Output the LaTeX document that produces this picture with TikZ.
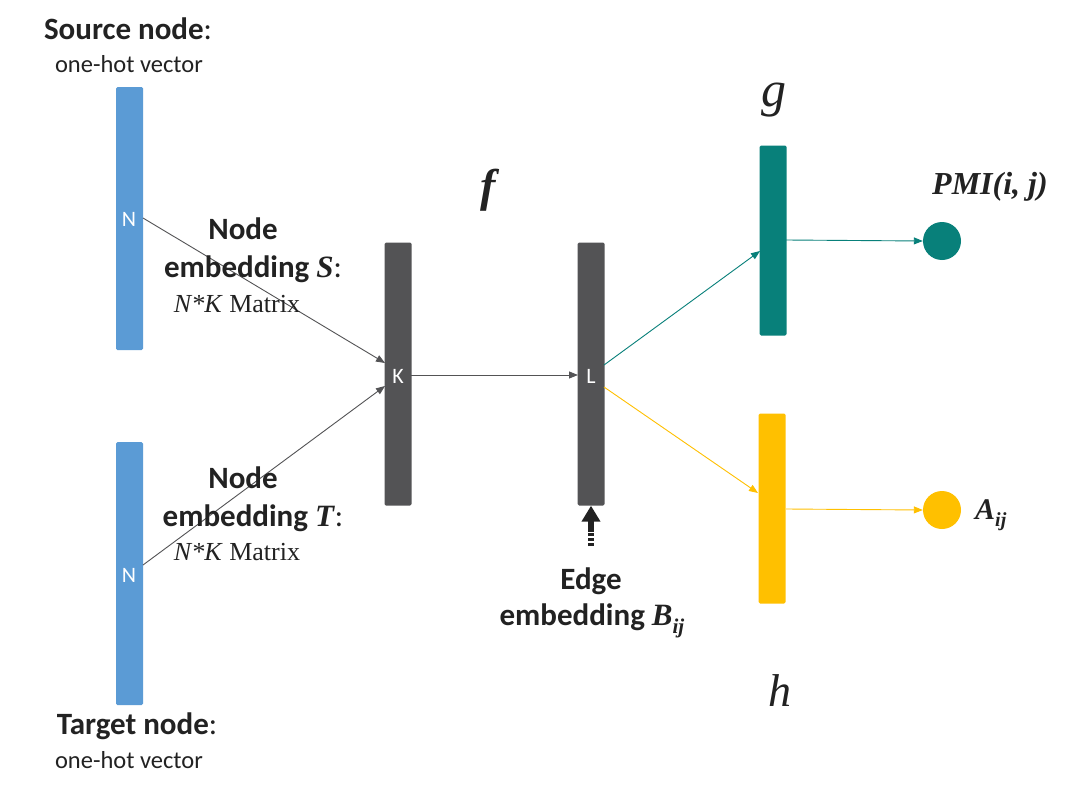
\documentclass[tikz,border=0pt]{standalone}
\usepackage{fontspec}
\setmainfont{Liberation Serif}
\newfontfamily\calfont{Carlito}
\usetikzlibrary{arrows.meta}
\definecolor{barblue}{HTML}{5B9BD5}
\definecolor{bargray}{HTML}{535355}
\definecolor{barteal}{HTML}{08807A}
\definecolor{baryellow}{HTML}{FFC000}
\definecolor{txt}{HTML}{222222}
\begin{document}
\begin{tikzpicture}[x=1pt,y=-1pt,
  bar/.style={rectangle, rounded corners=1.5, inner sep=0, minimum width=27, minimum height=263},
  sbar/.style={rectangle, rounded corners=1.5, inner sep=0, minimum width=27, minimum height=190},
  inlbl/.style={white, font=\calfont\fontsize{22}{24}\selectfont, inner sep=0},
  big/.style={txt, font=\calfont\bfseries\fontsize{31}{35}\selectfont, inner sep=0},
  small/.style={txt, font=\calfont\fontsize{24.5}{28}\selectfont, inner sep=0},
  mat/.style={txt, font=\fontsize{26}{28}\selectfont, inner sep=0},
  conn/.style={-{Triangle[length=9,width=7]}, line width=0.9},
  outcirc/.style={circle, inner sep=0, minimum size=38},
]
\useasboundingbox (0,0) rectangle (1080,787);
\fill[white] (0,0) rectangle (1080,787);

% bars
\node[bar, fill=barblue] (src) at (129.5,218.5) {};
\node[bar, fill=barblue] (tgt) at (129.5,573.5) {};
\node[bar, fill=bargray] (kb) at (398,374) {};
\node[bar, fill=bargray] (lb) at (591,374) {};
\node[sbar, fill=barteal] (gb) at (773,240.5) {};
\node[sbar, fill=baryellow] (hb) at (772,508.5) {};

% inner labels
\node[inlbl] (nS) at (129,219) {N};
\node[inlbl] (nT) at (129,575) {N};
\node[inlbl] (kl) at (398,376) {K};
\node[inlbl] (ll) at (591,376) {L};

% output circles
\node[outcirc, fill=barteal] (pmi) at (942,241) {};
\node[outcirc, fill=baryellow] (aij) at (942,510) {};

% anchor coordinates
\coordinate (sOut) at (143,218);
\coordinate (tOut) at (143,565);
\coordinate (kIn1) at (385,363);
\coordinate (kIn2) at (385,386);
\coordinate (kOut) at (411,375);
\coordinate (lIn) at (578,375);
\coordinate (lOut1) at (604,365);
\coordinate (lOut2) at (604,387);
\coordinate (gIn) at (760,251);
\coordinate (hIn) at (758,493);
\coordinate (gOut) at (786,240);
\coordinate (hOut) at (786,509);

% connectors
\draw[conn, bargray] (sOut) -- (kIn1);
\draw[conn, bargray] (tOut) -- (kIn2);
\draw[conn, bargray] (kOut) -- (lIn);
\draw[conn, barteal] (lOut1) -- (gIn);
\draw[conn, baryellow] (lOut2) -- (hIn);
\draw[conn, barteal] (gOut) -- (pmi.west);
\draw[conn, baryellow] (hOut) -- (aij.west);

% edge embedding arrow
\coordinate (eTail) at (591,546);
\coordinate (eMid) at (591,532);
\draw[txt, line width=6, -{Triangle[length=16,width=18]}] (eMid) -- (lb.south);
\draw[txt, line width=6, dash pattern=on 3 off 2] (eTail) -- (eMid);

% texts
\node[big] (srcT) at (128,29) {Source node{\mdseries:}};
\node[small] (srcS) at (129,64) {one-hot vector};
\node[big] (tgtT) at (137,726) {Target node{\mdseries:}};
\node[small] (tgtS) at (129,760) {one-hot vector};

\node[big] (n1a) at (243,229) {Node};
\node[big] (n1b) at (253,269) {embedding \textrm{\textit{S}}{\mdseries:}};
\node[mat] (n1c) at (237,304) {\textit{N*K} Matrix};
\node[big] (n2a) at (243,478) {Node};
\node[big] (n2b) at (253,518) {embedding \textrm{\textit{T}}{\mdseries:}};
\node[mat] (n2c) at (237,552) {\textit{N*K} Matrix};

\node[big] (e1) at (591,581) {Edge};
\node[big] (e2) at (592,621) {embedding \textrm{\textit{B}\raisebox{-0.25em}{\fontsize{21}{24}\selectfont\textit{ij}}}};

\node[txt, font=\bfseries\itshape\fontsize{46}{50}\selectfont, inner sep=0] (fl) at (488,190) {f};
\node[txt, font=\itshape\fontsize{50}{54}\selectfont, inner sep=0] (gl) at (774,100) {g};
\node[txt, font=\itshape\fontsize{46}{50}\selectfont, inner sep=0] (hl) at (780,691) {h};
\node[txt, font=\bfseries\itshape\fontsize{32}{36}\selectfont, inner sep=0] (pmil) at (990,187) {PMI(i, j)};
\node[txt, font=\bfseries\itshape\fontsize{30}{34}\selectfont, inner sep=0, anchor=west] (al) at (975,515) {A\raisebox{-0.25em}{\fontsize{20}{22}\selectfont ij}};
\end{tikzpicture}
\end{document}
